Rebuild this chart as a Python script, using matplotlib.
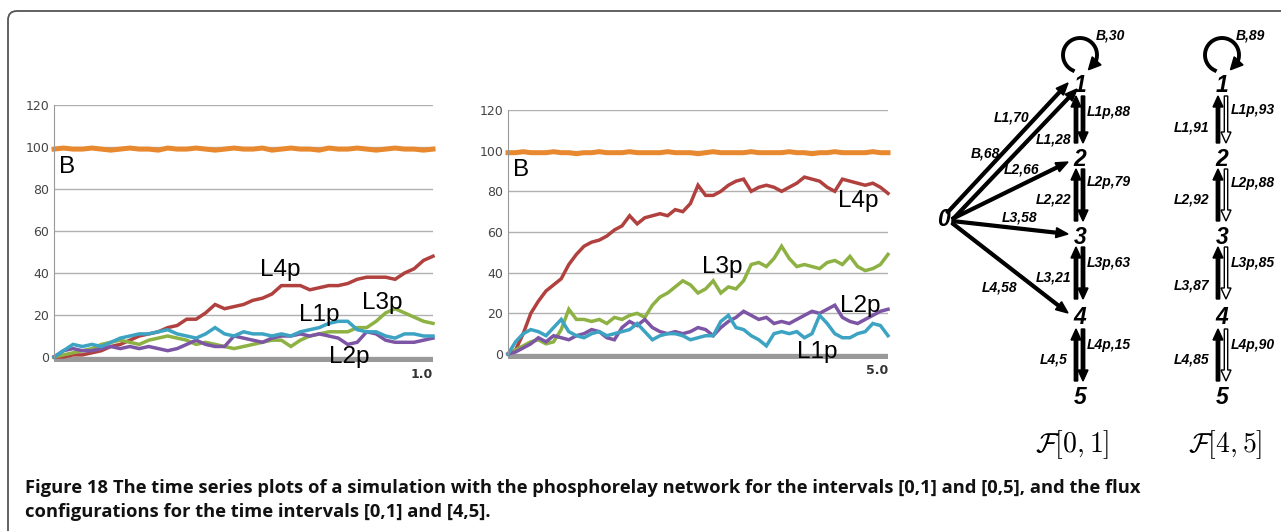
import numpy as np
import matplotlib.pyplot as plt
from matplotlib.patches import FancyBboxPatch, FancyArrow

plt.rcParams['mathtext.fontset'] = 'cm'

# ---- time series, interval [0,1] (41 samples) ----
t_left = np.linspace(0, 1, 41)
b_left = [99, 99.5, 99, 99, 99.5, 99, 98.5, 99, 99.5, 99, 99, 98.5, 99.5, 99, 99, 99.5, 99, 98.5, 99, 99.5,
          99, 99, 99.5, 98.5, 99, 99.5, 99, 99, 98.5, 99.5, 99, 99, 99.5, 99, 98.5, 99, 99.5, 99, 99, 98.5, 99]
l4p_left = [0, 0, 1, 1, 2, 3, 5, 6, 8, 10, 11, 12, 14, 15, 18, 18, 21, 25, 23, 24,
            25, 27, 28, 30, 34, 34, 34, 32, 33, 34, 34, 35, 37, 38, 38, 38, 37, 40, 42, 46, 48]
l1p_left = [0, 3, 6, 5, 6, 5, 7, 9, 10, 11, 11, 12, 13, 11, 10, 9, 11, 14, 11, 10,
            12, 11, 11, 10, 11, 10, 12, 13, 14, 16, 17, 17, 13, 12, 12, 10, 9, 11, 11, 10, 10]
l3p_left = [0, 1, 2, 3, 4, 6, 7, 8, 7, 6, 8, 9, 10, 9, 8, 6, 7, 6, 5, 4,
            5, 6, 7, 8, 8, 5, 8, 10, 11, 12, 12, 12, 14, 14, 17, 21, 23, 21, 19, 17, 16]
l2p_left = [0, 3, 4, 3, 3, 4, 5, 4, 5, 4, 5, 4, 3, 4, 6, 8, 6, 5, 5, 10,
            9, 8, 7, 9, 10, 10, 11, 10, 11, 10, 9, 6, 7, 12, 11, 8, 7, 7, 7, 8, 9]

# ---- time series, interval [0,5] (51 samples) ----
t_right = np.linspace(0, 5, 51)
b_right = [99, 99, 99.5, 99, 99, 99, 99.5, 99, 99, 98.5, 99, 99, 99.5, 99, 99, 99, 99.5, 99, 99, 99,
           99, 99.5, 99, 99, 99, 98.5, 99, 99.5, 99, 99, 99, 99, 99.5, 99, 99, 99, 99, 99.5, 99, 99,
           98.5, 99, 99, 99.5, 99, 99, 99, 99, 99.5, 99, 99]
l4p_right = [0, 2, 10, 20, 26, 31, 34, 37, 44, 49, 53, 55, 56, 58, 61, 63, 68, 64, 67, 68,
             69, 68, 71, 70, 74, 83, 78, 78, 80, 83, 85, 86, 80, 82, 83, 82, 80, 82, 84, 87,
             86, 85, 82, 80, 86, 85, 84, 83, 84, 82, 79]
l3p_right = [0, 2, 4, 6, 7, 5, 6, 12, 22, 17, 17, 16, 17, 15, 18, 17, 19, 20, 18, 24,
             28, 30, 33, 36, 34, 30, 32, 36, 30, 33, 32, 36, 44, 45, 43, 47, 53, 47, 43, 44,
             43, 42, 45, 46, 44, 48, 43, 41, 42, 44, 49]
l2p_right = [0, 1, 3, 5, 8, 6, 9, 8, 7, 9, 10, 12, 11, 8, 7, 13, 16, 14, 17, 13,
             11, 10, 11, 10, 11, 13, 12, 9, 13, 16, 18, 21, 19, 17, 18, 15, 16, 15, 17, 19,
             21, 20, 22, 24, 18, 16, 15, 17, 19, 21, 22]
l1p_right = [0, 6, 10, 12, 11, 9, 13, 17, 11, 9, 8, 10, 11, 9, 10, 11, 12, 15, 11, 7,
             9, 10, 10, 9, 7, 8, 9, 9, 16, 19, 13, 12, 9, 7, 4, 10, 11, 10, 11, 8,
             10, 19, 15, 10, 8, 8, 10, 11, 15, 14, 9]

colors = {'B': '#E8892F', 'L4p': '#B0413E', 'L3p': '#8DB243',
          'L2p': '#7D55A5', 'L1p': '#3CA3C3'}
yticks = [0, 20, 40, 60, 80, 100, 120]

# ---- flux configurations ----
nodes = ['1', '2', '3', '4', '5']
flux01_left = ['L1,28', 'L2,22', 'L3,21', 'L4,5']
flux01_right = ['L1p,88', 'L2p,79', 'L3p,63', 'L4p,15']
flux01_from0 = ['L1,70', 'B,68', 'L2,66', 'L3,58', 'L4,58']
flux01_loop = 'B,30'
flux45_left = ['L1,91', 'L2,92', 'L3,87', 'L4,85']
flux45_right = ['L1p,93', 'L2p,88', 'L3p,85', 'L4p,90']
flux45_loop = 'B,89'

fig = plt.figure(figsize=(12.81, 5.31), dpi=100)

# overlay in pixel coordinates for frame, diagram and caption
ov = fig.add_axes([0, 0, 1, 1])
ov.set_xlim(0, 1281)
ov.set_ylim(531, 0)
ov.axis('off')
ov.patch.set_visible(False)

ov.add_patch(FancyBboxPatch((8, 11), 1400, 700, boxstyle='round,pad=0,rounding_size=9',
                            ec='#555555', fc='none', lw=1.3))


def ts_panel(rect, t, series, tmax, xlabel, labels):
    ax = fig.add_axes(rect)
    for name, vals in series:
        lw = 3.6 if name == 'B' else 2.5
        ax.plot(t, vals, color=colors[name], lw=lw, solid_joinstyle='miter', clip_on=False)
    ax.set_xlim(0, tmax)
    ax.set_ylim(0, 120)
    ax.set_yticks(yticks)
    ax.set_xticks([])
    ax.tick_params(axis='y', length=0, pad=3.5, labelsize=9, labelcolor='#444444')
    ax.grid(axis='y', color='#b0b0b0', lw=1)
    ax.set_axisbelow(True)
    for s in ['top', 'right', 'bottom']:
        ax.spines[s].set_visible(False)
    ax.spines['left'].set_color('#999999')
    ax.spines['left'].set_linewidth(0.8)
    ax.axhspan(-2.4, 0, color='#999999', lw=0, clip_on=False)
    ax.text(tmax, -5, xlabel, ha='right', va='top', fontsize=9, fontweight='bold', color='#333333')
    for txt, x, y in labels:
        ax.text(x, y, txt, ha='center', va='center', fontsize=17.5,
                family='Liberation Sans', color='black')
    return ax


ts_panel([54 / 1281, 1 - 357 / 531, 379 / 1281, 252 / 531], t_left,
         [('B', b_left), ('L4p', l4p_left), ('L3p', l3p_left), ('L2p', l2p_left), ('L1p', l1p_left)],
         1, '1.0',
         [('B', 0.034, 90.5), ('L4p', 0.596, 41.4), ('L1p', 0.70, 20),
          ('L3p', 0.865, 25.7), ('L2p', 0.78, 0)])

ts_panel([508 / 1281, 1 - 354 / 531, 380 / 1281, 244 / 531], t_right,
         [('B', b_right), ('L4p', l4p_right), ('L3p', l3p_right), ('L2p', l2p_right), ('L1p', l1p_right)],
         5, '5.0',
         [('B', 0.17, 90.5), ('L4p', 4.61, 75), ('L3p', 2.82, 42.8),
          ('L2p', 4.63, 23.6), ('L1p', 4.07, 1)])

# ---- diagrams ----
node_y = [85, 160, 238, 318, 398]
spans = [(96, 143), (169, 221), (247, 299), (329, 381)]
lab_font = dict(fontsize=10, fontweight='bold', fontstyle='italic', family='Liberation Sans')
node_font = dict(fontsize=16.5, fontweight='bold', fontstyle='italic', family='Liberation Sans')


def arrow(x0, y0, x1, y1, fc='black', w=2.8, hw=10, hl=12):
    ov.add_patch(FancyArrow(x0, y0, x1 - x0, y1 - y0, width=w, head_width=hw, head_length=hl,
                            length_includes_head=True, fc=fc, ec='black', lw=1.0))


def self_loop(cx, cy, label, lx):
    r = 17
    th = np.radians(np.linspace(245, -25, 60))
    ov.plot(cx + r * np.cos(th), cy - r * np.sin(th), color='black', lw=2.8)
    e = np.radians(-60)
    ex, ey = cx + r * np.cos(e), cy - r * np.sin(e)
    sx, sy = cx + r * np.cos(th[-1]), cy - r * np.sin(th[-1])
    ov.add_patch(FancyArrow(sx, sy, ex - sx, ey - sy, width=0, head_width=12, head_length=12,
                            length_includes_head=True, fc='black', ec='black'))
    ov.text(lx, 35, label, ha='center', va='center', **lab_font)


def chain(xn, xu, xd, left_labels, right_labels, lx, rx, left_y, right_y, hollow):
    for n, y in zip(nodes, node_y):
        ov.text(xn, y, n, ha='center', va='center', **node_font)
    for (top, bot) in spans:
        arrow(xu, bot, xu, top, w=3.4, hw=10, hl=11)
        arrow(xd, top, xd, bot, fc='white' if hollow else 'black', w=3.4, hw=10, hl=11)
    for txt, y in zip(left_labels, left_y):
        ov.text(lx, y, txt, ha='center', va='center', **lab_font)
    for txt, y in zip(right_labels, right_y):
        ov.text(rx, y, txt, ha='center', va='center', **lab_font)


# F[0,1]
chain(1080, 1076, 1083, flux01_left, flux01_right, 1054, 1109,
      [140, 200, 277, 360], [112, 182, 263, 345], False)
self_loop(1080, 55, flux01_loop, 1110)
ov.text(943, 220, '0', ha='center', va='center', **node_font)
arrow(947, 213, 1068, 83)
arrow(953, 219, 1077, 89)
arrow(952, 219, 1068, 162)
arrow(952, 221, 1068, 234)
arrow(952, 223, 1068, 313)
for txt, (x, y) in zip(flux01_from0, [(1012, 118), (985, 153), (1022, 170), (1020, 218), (1000, 287)]):
    ov.text(x, y, txt, ha='center', va='center', **lab_font)
ov.text(1072, 445, r'$\mathcal{F}[0,1]$', ha='center', va='center', fontsize=20)

# F[4,5]
chain(1222, 1218, 1226, flux45_left, flux45_right, 1192, 1253,
      [127, 200, 285, 360], [110, 183, 263, 345], True)
self_loop(1222, 55, flux45_loop, 1250)
ov.text(1225, 445, r'$\mathcal{F}[4,5]$', ha='center', va='center', fontsize=20)

# ---- caption ----
cap_font = dict(family='Open Sans', fontweight='bold', color='#111111')
fig.canvas.draw()
r = fig.canvas.get_renderer()
t1 = ov.text(25, 493, 'Figure 18', va='baseline', fontsize=12, **cap_font)
w = t1.get_window_extent(r)
t2 = ov.text(w.x1 + 5, 493,
             'The time series plots of a simulation with the phosphorelay network for the intervals '
             '[0,1] and [0,5], and the flux', va='baseline', fontsize=12, **cap_font)
t3 = ov.text(25, 517, 'configurations for the time intervals [0,1] and [4,5].',
             va='baseline', fontsize=12, **cap_font)
e2 = t2.get_window_extent(r)
scale = (1142 - 25) / (e2.x1 - w.x0)
for t in (t1, t2, t3):
    t.set_fontsize(12 * scale)
w = t1.get_window_extent(r)
t2.set_x(w.x1 + 5)

fig.savefig('out.png', dpi=100)
